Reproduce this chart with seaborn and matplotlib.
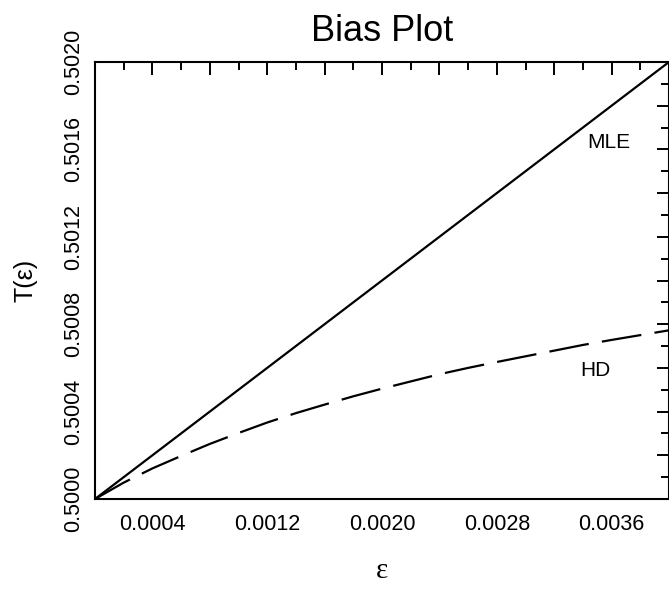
"""
Bias plot: T(eps) for MLE and HD under point-mass contamination.
"""

import numpy as np
import pandas as pd
import matplotlib
matplotlib.use("Agg")
import matplotlib.pyplot as plt
from matplotlib.ticker import MultipleLocator
import seaborn as sns

# values
eps = [0.0000, 0.0002, 0.0004, 0.0006, 0.0008, 0.0010, 0.0012, 0.0014,
       0.0016, 0.0018, 0.0020, 0.0022, 0.0024, 0.0026, 0.0028, 0.0030,
       0.0032, 0.0034, 0.0036, 0.0038, 0.0040]
mle = [0.50000, 0.50010, 0.50020, 0.50030, 0.50040, 0.50050, 0.50060,
       0.50070, 0.50080, 0.50090, 0.50100, 0.50110, 0.50120, 0.50130,
       0.50140, 0.50150, 0.50160, 0.50170, 0.50180, 0.50190, 0.50200]
hd = [0.500000, 0.500075, 0.500140, 0.500197, 0.500252, 0.500302,
      0.500350, 0.500393, 0.500432, 0.500470, 0.500505, 0.500538,
      0.500571, 0.500600, 0.500627, 0.500653, 0.500679, 0.500705,
      0.500728, 0.500750, 0.500772]

x_tick_vals = [0.0000, 0.0004, 0.0008, 0.0012, 0.0016, 0.0020,
               0.0024, 0.0028, 0.0032, 0.0036, 0.0040]
x_tick_labels = ["", "0.0004", "", "0.0012", "", "0.0020",
                 "", "0.0028", "", "0.0036", ""]
y_tick_vals = [0.5000, 0.5002, 0.5004, 0.5006, 0.5008, 0.5010,
               0.5012, 0.5014, 0.5016, 0.5018, 0.5020]
y_tick_labels = ["0.5000", "", "0.5004", "", "0.5008", "",
                 "0.5012", "", "0.5016", "", "0.5020"]

sns.set_style("white")
plt.rcParams.update({
    "font.family": ["Liberation Sans", "DejaVu Sans"],
    "text.color": "black",
    "axes.labelcolor": "black",
    "xtick.color": "black",
    "ytick.color": "black",
    "axes.linewidth": 1.5,
    "axes.edgecolor": "black",
    "xtick.direction": "in",
    "ytick.direction": "in",
    "xtick.top": True,
    "ytick.right": True,
})

df = pd.DataFrame({
    "eps": eps + eps,
    "T": mle + hd,
    "estimator": ["MLE"] * len(eps) + ["HD"] * len(eps),
})

fig = plt.figure(figsize=(6.69, 5.90), dpi=100)
ax = fig.add_axes([95 / 669, 1 - 499 / 590, (669 - 95) / 669, (499 - 62) / 590])

sns.lineplot(data=df, x="eps", y="T", hue="estimator", style="estimator",
             palette={"MLE": "black", "HD": "black"},
             dashes={"MLE": "", "HD": (18, 6)},
             linewidth=1.6, legend=False, ax=ax)

ax.set_xlim(0, 0.004)
ax.set_ylim(0.5, 0.502)

ax.set_xticks(x_tick_vals)
ax.set_xticklabels(x_tick_labels, fontsize=15.5)
ax.set_yticks(y_tick_vals)
ax.set_yticklabels(y_tick_labels, fontsize=15.5, rotation=90, va="center")
ax.xaxis.set_minor_locator(MultipleLocator(0.0002))
ax.yaxis.set_minor_locator(MultipleLocator(0.0001))
ax.tick_params(which="major", length=9, width=1.4, color="black")
ax.tick_params(which="minor", length=5.5, width=1.4, color="black")
ax.tick_params(axis="x", which="major", pad=11)
ax.tick_params(axis="y", which="major", pad=8)

ax.text(0.00358, 0.50163, "MLE", fontsize=15, ha="center", va="center")
ax.text(0.00349, 0.50059, "HD", fontsize=15, ha="center", va="center")

ax.set_title("Bias Plot", fontsize=26, pad=15)
ax.set_xlabel("\u03b5", fontsize=21, family=["Liberation Serif", "DejaVu Serif"])
ax.set_ylabel("T(\u03b5)", fontsize=18)
ax.xaxis.set_label_coords(0.5, -0.135)
ax.yaxis.set_label_coords(-0.1, 0.5)

fig.savefig("out.png", dpi=100)
plt.close(fig)
